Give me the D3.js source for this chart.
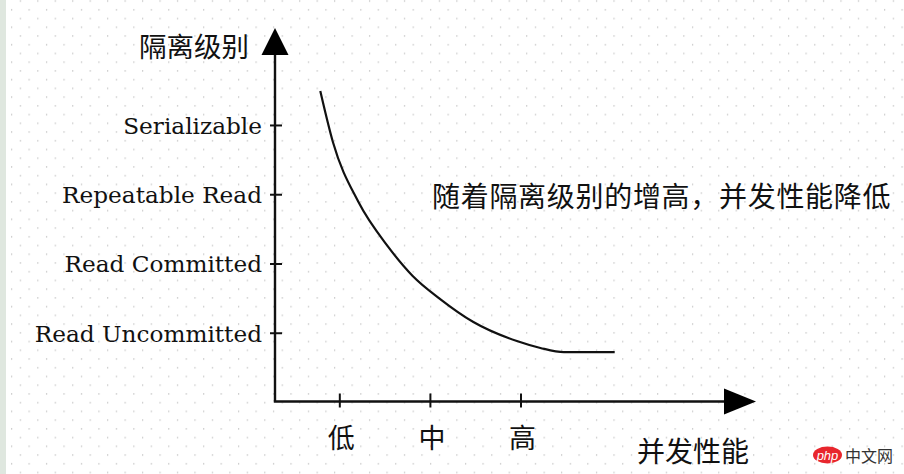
<!DOCTYPE html>
<html>
<head>
<meta charset="utf-8">
<script src="https://cdn.jsdelivr.net/npm/d3@7/dist/d3.min.js"></script>
<style>
  html, body { margin: 0; padding: 0; background: #fff; }
  svg { display: block; }
</style>
</head>
<body>
<svg id="chart" width="904" height="474"></svg>
<script>
// ---- data ----
const isolationLevels = ["Read Uncommitted", "Read Committed", "Repeatable Read", "Serializable"];
const isolationValues = [1, 2, 3, 4];
const concurrencyLabels = ["低", "中", "高"];
const concurrencyValues = [1, 2, 3];
const curveX = [0.79, 0.93, 1.21, 1.54, 1.81, 2.11, 2.48, 2.96, 3.22, 3.48, 4.04];
const curveY = [4.49, 3.75, 2.89, 2.24, 1.82, 1.49, 1.155, 0.88, 0.78, 0.72, 0.72];
const yTitle = "隔离级别";
const xTitle = "并发性能";
const note = "随着隔离级别的增高，并发性能降低";

// ---- layout ----
const W = 904, H = 474;
const svg = d3.select("#chart");
const x = d3.scaleLinear().domain([0.29, 5.6]).range([275, 756]);
const y = d3.scaleLinear().domain([0, 5.4]).range([402, 28]);
const ox = 275, oy = 401.5;

// background dots
const defs = svg.append("defs");
const pat = defs.append("pattern").attr("id", "dots")
  .attr("patternUnits", "userSpaceOnUse")
  .attr("x", 2.3).attr("y", 0.2)
  .attr("width", 17.46).attr("height", 17.46);
pat.append("rect").attr("x", 0).attr("y", 0).attr("width", 1.2).attr("height", 1.7).attr("fill", "#cdcdcd");
pat.append("rect").attr("x", 8.73).attr("y", 8.73).attr("width", 1.2).attr("height", 1.7).attr("fill", "#cdcdcd");
svg.append("rect").attr("width", W).attr("height", H).attr("fill", "#fff");
svg.append("rect").attr("width", W).attr("height", H).attr("fill", "url(#dots)");
svg.append("rect").attr("x", 0).attr("y", 0).attr("width", 6).attr("height", H).attr("fill", "#dfe7df");

const ink = "#111";
const cjk = "'Noto Sans CJK SC', sans-serif";

// axes lines
svg.append("line").attr("x1", ox).attr("y1", oy).attr("x2", ox).attr("y2", 50)
  .attr("stroke", ink).attr("stroke-width", 2.4);
svg.append("line").attr("x1", ox - 1.2).attr("y1", oy).attr("x2", 730).attr("y2", oy)
  .attr("stroke", ink).attr("stroke-width", 2.6);
// arrows
svg.append("path").attr("d", `M${ox},${y(5.4)} L${ox - 13.5},55 L${ox + 13.5},55 Z`).attr("fill", "#000");
svg.append("path").attr("d", `M${x(5.6)},${oy} L724,${oy - 13} L724,${oy + 13} Z`).attr("fill", "#000");

// y axis
const yAxis = d3.axisLeft(y).tickValues(isolationValues)
  .tickFormat((d, i) => isolationLevels[i]).tickSize(5).tickPadding(8);
const gy = svg.append("g").attr("transform", `translate(${ox},0)`).call(yAxis);
gy.select(".domain").remove();
gy.selectAll(".tick line").attr("x1", -5).attr("x2", 7).attr("stroke", ink).attr("stroke-width", 2);
gy.selectAll(".tick text")
  .attr("font-family", "'DejaVu Serif', serif").attr("font-size", 23.2)
  .attr("fill", ink).attr("dy", "0.36em");

// x axis
const xAxis = d3.axisBottom(x).tickValues(concurrencyValues)
  .tickFormat((d, i) => concurrencyLabels[i]).tickSize(6);
const gx = svg.append("g").attr("transform", `translate(0,${oy})`).call(xAxis);
gx.select(".domain").remove();
gx.selectAll(".tick line").attr("y1", -8).attr("y2", 6).attr("stroke", ink).attr("stroke-width", 2);
gx.selectAll(".tick text")
  .attr("font-family", cjk).attr("font-size", 27)
  .attr("fill", ink).attr("y", 37).attr("dy", "0.35em").attr("dx", 1.5);

// titles
svg.append("text").attr("x", 249).attr("y", 45).attr("text-anchor", "end")
  .attr("dominant-baseline", "central")
  .attr("font-family", cjk).attr("font-size", 27.5).attr("fill", ink).text(yTitle);
svg.append("text").attr("x", 693).attr("y", 450).attr("text-anchor", "middle")
  .attr("dominant-baseline", "central")
  .attr("font-family", cjk).attr("font-size", 28).attr("fill", ink).text(xTitle);
svg.append("text").attr("x", 432).attr("y", 195)
  .attr("dominant-baseline", "central").attr("letter-spacing", 0.7)
  .attr("font-family", cjk).attr("font-size", 28).attr("fill", ink).text(note);

// curve
const pts = curveX.map((v, i) => [v, curveY[i]]);
const line = d3.line().x(d => x(d[0])).y(d => y(d[1])).curve(d3.curveMonotoneX);
svg.append("path").attr("d", line(pts)).attr("fill", "none")
  .attr("stroke", ink).attr("stroke-width", 2.2);

// watermark
const wm = svg.append("g");
wm.append("ellipse").attr("cx", 827.5).attr("cy", 455).attr("rx", 14.5).attr("ry", 8.5).attr("fill", "#e8262d");
wm.append("text").attr("x", 827.5).attr("y", 455).attr("text-anchor", "middle")
  .attr("dominant-baseline", "central").attr("font-family", "Arial, 'Liberation Sans', sans-serif")
  .attr("font-size", 13).attr("font-style", "italic").attr("fill", "#fff").text("php");
wm.append("text").attr("x", 845).attr("y", 455)
  .attr("dominant-baseline", "central").attr("font-family", cjk)
  .attr("font-size", 16).attr("fill", "#333").text("中文网");
</script>
</body>
</html>
